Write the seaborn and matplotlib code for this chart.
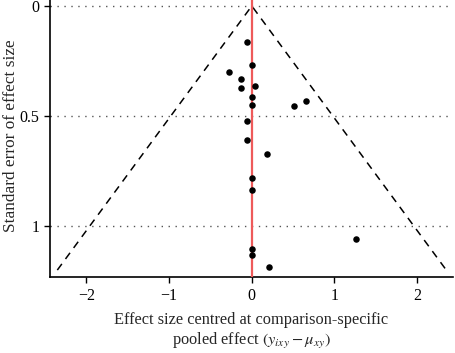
import numpy as np
import pandas as pd
import matplotlib
matplotlib.use("Agg")
import matplotlib.pyplot as plt
import seaborn as sns

effect = [-0.06, 0.00, -0.28, -0.13, -0.13, 0.04, 0.00, 0.00, 0.515, 0.66,
          -0.06, -0.06, 0.185, 0.00, 0.00, 0.00, 0.00, 0.21, 1.26]
se = [0.165, 0.268, 0.299, 0.333, 0.373, 0.365, 0.414, 0.449, 0.455, 0.433,
      0.524, 0.61, 0.674, 0.783, 0.836, 1.103, 1.132, 1.188, 1.058]
se_max = 1.2
x_ticks = [-2, -1, 0, 1, 2]
y_ticks = [0, 0.5, 1]
y_tick_labels = ["0", "0.5", "1"]

sns.set_style("ticks")
plt.rcParams['font.family'] = ['Liberation Serif', 'DejaVu Serif']
plt.rcParams['mathtext.fontset'] = 'stix'

df = pd.DataFrame({"effect": effect, "se": se})

fig = plt.figure(figsize=(4.55, 3.53), dpi=100)
ax = fig.add_axes([0.11, 0.215, 0.885, 0.785])

for yv in y_ticks:
    ax.axhline(yv, color="#555555", lw=1.0, ls=(0, (1, 4)), zorder=1)

funnel = pd.DataFrame({"x": [-1.96 * se_max, 0, 1.96 * se_max],
                       "y": [se_max, 0, se_max]})
sns.lineplot(data=funnel, x="x", y="y", sort=False, ax=ax, color="black",
             lw=1.1, ls=(0, (5, 4)), zorder=2)
ax.axvline(0, color="#EE5A5A", lw=1.6, zorder=3)
sns.scatterplot(data=df, x="effect", y="se", ax=ax, color="black", s=22,
                edgecolor="black", linewidth=0, zorder=4)

ax.set_xlim(-2.44, 2.43)
ax.set_ylim(1.232, -0.027)
ax.set_xticks(x_ticks)
ax.set_xticklabels(["\u22122", "\u22121", "0", "1", "2"])
ax.set_yticks(y_ticks)
ax.set_yticklabels(y_tick_labels)
ax.tick_params(axis="both", labelsize=11.5, length=4, width=1, color="black",
               labelcolor="black")
for s in ["top", "right"]:
    ax.spines[s].set_visible(False)
for s in ["left", "bottom"]:
    ax.spines[s].set_linewidth(1.2)
    ax.spines[s].set_color("black")

ax.set_xlabel("Effect size centred at comparison-specific\npooled effect $(y_{ixy} - \\mu_{xy})$",
              fontsize=11.8, linespacing=1.25, labelpad=6)
ax.set_ylabel("Standard error of effect size", fontsize=12.4)
ax.yaxis.set_label_coords(-0.078, 0.51)

fig.savefig("out.png", dpi=100)
